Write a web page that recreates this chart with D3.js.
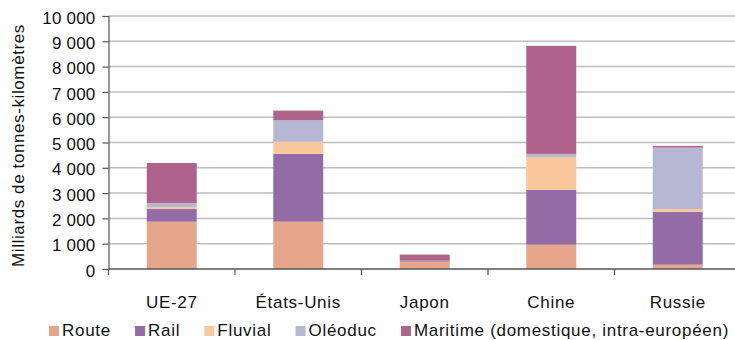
<!DOCTYPE html>
<html lang="fr">
<head>
<meta charset="utf-8">
<script src="https://cdn.jsdelivr.net/npm/d3@7"></script>
<style>
  html, body { margin: 0; padding: 0; background: #fff; }
  svg { display: block; }
  text { font-family: "Liberation Sans", Arial, Helvetica, sans-serif; fill: #111; }
</style>
</head>
<body>
<svg id="chart" width="735" height="340"></svg>
<script>
// Fret par mode de transport, en milliards de tonnes-kilomètres
const categories = ["UE-27", "États-Unis", "Japon", "Chine", "Russie"];
const modes = ["Route", "Rail", "Fluvial", "Oléoduc", "Maritime (domestique, intra-européen)"];
const route    = [1870, 1870, 290,  960,  170];
const rail     = [ 500, 2680,  50, 2170, 2090];
const fluvial  = [  80,  480,   0, 1300,  110];
const oleoduc  = [ 160,  850,   0,  120, 2430];
const maritime = [1580,  380, 230, 4270,   65];
const yTicks = [0, 1000, 2000, 3000, 4000, 5000, 6000, 7000, 8000, 9000, 10000];
const colors = ["#e7a589", "#936ca6", "#fac89c", "#b6b8d3", "#b0638a"];

const seriesValues = [route, rail, fluvial, oleoduc, maritime];
const rows = categories.map((c, i) => {
  const row = { cat: c };
  modes.forEach((m, k) => { row[m] = seriesValues[k][i]; });
  return row;
});

const svg = d3.select("#chart");
const plotLeft = 108.5, plotRight = 741, plotTop = 16, plotBottom = 269;

const x = d3.scaleBand().domain(categories).range([plotLeft, plotRight])
  .paddingInner(0.605).paddingOuter(0.3025);
const y = d3.scaleLinear().domain([0, 10000]).range([plotBottom, plotTop]);
const fmt = v => d3.format(",")(v).replace(/,/g, " ");

// horizontal gridlines
svg.append("g").selectAll("line").data(yTicks.filter(d => d > 0)).join("line")
  .attr("x1", plotLeft).attr("x2", plotRight)
  .attr("y1", d => y(d)).attr("y2", d => y(d))
  .attr("stroke", "#bdbdbd").attr("stroke-width", 1.5);

// stacked bars
const stack = d3.stack().keys(modes)(rows);
svg.append("g").selectAll("g").data(stack).join("g")
  .attr("fill", (d, i) => colors[i])
  .selectAll("rect").data(d => d).join("rect")
  .attr("x", d => x(d.data.cat))
  .attr("width", x.bandwidth())
  .attr("y", d => y(d[1]))
  .attr("height", d => Math.max(0, y(d[0]) - y(d[1])));

// y axis
const yAxis = svg.append("g").attr("transform", `translate(${plotLeft},0)`)
  .call(d3.axisLeft(y).tickValues(yTicks).tickFormat(fmt).tickSize(6).tickPadding(7));
yAxis.select(".domain").attr("stroke", "#555").attr("stroke-width", 1.2);
yAxis.selectAll(".tick line").attr("stroke", "#555").attr("stroke-width", 1.2);
yAxis.selectAll(".tick text")
  .style("font-family", "'Liberation Sans', Arial, sans-serif")
  .style("font-size", "17px").style("letter-spacing", "0.2px")
  .attr("fill", "#111").attr("dy", "0.42em");

// x axis: labels centred on bands, ticks at band boundaries
const xAxis = svg.append("g").attr("transform", `translate(0,${plotBottom})`)
  .call(d3.axisBottom(x).tickSize(0).tickPadding(0));
xAxis.select(".domain").remove();
xAxis.selectAll(".tick text")
  .style("font-family", "'Liberation Sans', Arial, sans-serif")
  .style("font-size", "17px").style("letter-spacing", "0.7px")
  .attr("fill", "#111").attr("dy", null).attr("y", 38.5);

svg.append("line").attr("x1", plotLeft).attr("x2", plotRight)
  .attr("y1", plotBottom).attr("y2", plotBottom)
  .attr("stroke", "#555").attr("stroke-width", 1.5);
const half = (x.step() - x.bandwidth()) / 2;
const bounds = categories.map(c => x(c) - half)
  .concat([x(categories[categories.length - 1]) + x.bandwidth() + half]);
svg.append("g").selectAll("line").data(bounds).join("line")
  .attr("x1", d => d).attr("x2", d => d)
  .attr("y1", plotBottom).attr("y2", plotBottom + 6)
  .attr("stroke", "#555").attr("stroke-width", 1.2);

// y axis title
svg.append("text")
  .attr("transform", `translate(24,${(plotTop + plotBottom) / 2 + 3}) rotate(-90)`)
  .attr("text-anchor", "middle")
  .style("font-size", "17px").style("letter-spacing", "0.6px")
  .text("Milliards de tonnes-kilomètres");

// legend, laid out left to right
const legend = svg.append("g");
const legStart = 49, legEnd = 729, sw = 10, gapText = 3;
const items = legend.selectAll("g").data(modes).join("g");
items.append("rect").attr("width", sw).attr("height", sw)
  .attr("y", 326).attr("fill", (d, i) => colors[i]);
items.append("text").attr("x", sw + gapText).attr("y", 335.5)
  .style("font-size", "17px").style("letter-spacing", "0.7px")
  .text(d => d);
const widths = [];
items.select("text").each(function () { widths.push(this.getComputedTextLength()); });
const contentW = d3.sum(widths) + modes.length * (sw + gapText);
const gap = (legEnd - legStart - contentW) / (modes.length - 1);
let cx = legStart;
items.attr("transform", (d, i) => {
  const t = `translate(${cx},0)`;
  cx += sw + gapText + widths[i] + gap;
  return t;
});
</script>
</body>
</html>
